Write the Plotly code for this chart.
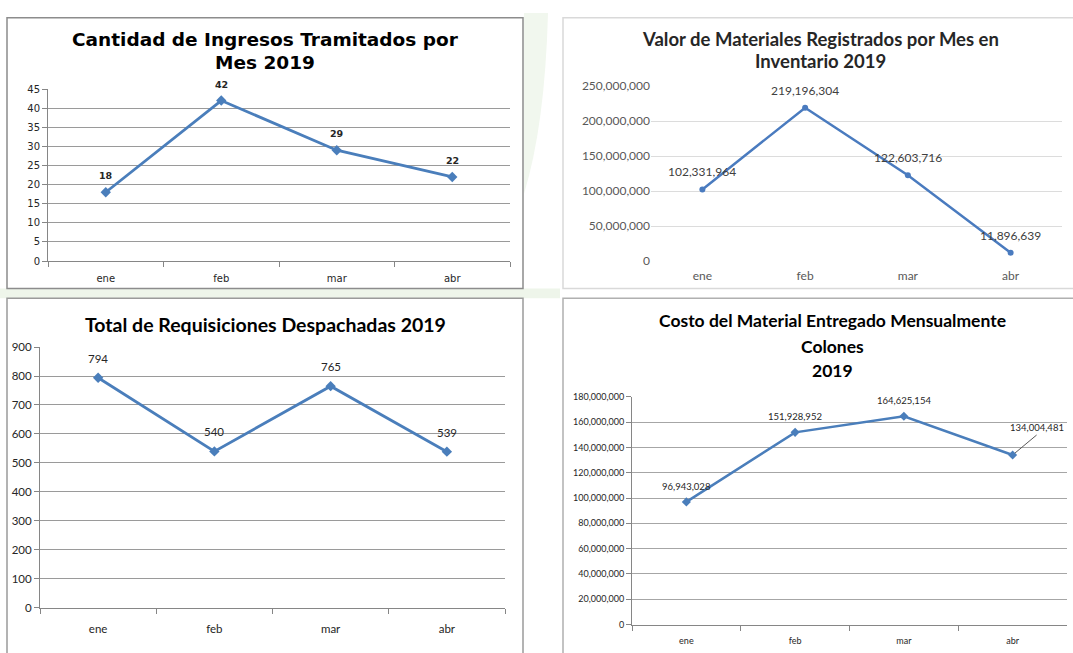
import plotly.graph_objects as go

W, H = 1073, 653

meses = ["ene", "feb", "mar", "abr"]
ingresos = [18, 42, 29, 22]
valor_materiales = [102331964, 219196304, 122603716, 11896639]
requisiciones = [794, 540, 765, 539]
costo_material = [96943028, 151928952, 164625154, 134004481]

titulo1 = ["Cantidad de Ingresos Tramitados por", "Mes 2019"]
titulo2 = ["Valor de Materiales Registrados por Mes en", "Inventario 2019"]
titulo3 = ["Total de Requisiciones Despachadas 2019"]
titulo4 = ["Costo del Material Entregado Mensualmente", "Colones", "2019"]


def px(x):
    return x / W


def py(y):
    return 1 - y / H


fig = go.Figure()

CAL = "Lato, Carlito, Calibri, sans-serif"
VER = "DejaVu Sans, Verdana, sans-serif"

# ---------- traces ----------
fig.add_trace(go.Scatter(x=meses, y=ingresos, xaxis="x", yaxis="y", mode="lines+markers",
                         line=dict(color="#4A7EBB", width=2.8),
                         marker=dict(symbol="diamond", size=8, color="#4A7EBB"),
                         hoverinfo="skip", showlegend=False))
fig.add_trace(go.Scatter(x=meses, y=valor_materiales, xaxis="x2", yaxis="y2", mode="lines+markers",
                         line=dict(color="#4A7BBF", width=2.5),
                         marker=dict(symbol="circle", size=6, color="#4A7BBF"),
                         hoverinfo="skip", showlegend=False))
fig.add_trace(go.Scatter(x=meses, y=requisiciones, xaxis="x3", yaxis="y3", mode="lines+markers",
                         line=dict(color="#4A7EBB", width=2.8),
                         marker=dict(symbol="diamond", size=8, color="#4A7EBB"),
                         hoverinfo="skip", showlegend=False))
fig.add_trace(go.Scatter(x=meses, y=costo_material, xaxis="x4", yaxis="y4", mode="lines+markers",
                         line=dict(color="#4A7EBB", width=2.5),
                         marker=dict(symbol="diamond", size=7, color="#4A7EBB"),
                         hoverinfo="skip", showlegend=False))

# ---------- axes ----------
def xcat(domain, anchor, showline, linecolor, font, standoff):
    return dict(domain=domain, anchor=anchor, type="category", range=[-0.5, 3.5],
                showline=showline, linecolor=linecolor, linewidth=1,
                ticks="outside" if showline else "", tickson="boundaries", ticklen=5,
                tickcolor=linecolor, showgrid=False, zeroline=False,
                tickfont=font, ticklabelstandoff=standoff, fixedrange=True)


def yval(domain, anchor, rng, dtick, showline, linecolor, gridcolor, font, fmt=None):
    d = dict(domain=domain, anchor=anchor, range=rng, dtick=dtick, tick0=0,
             showline=showline, linecolor=linecolor, linewidth=1,
             ticks="outside" if showline else "", ticklen=5, tickcolor=linecolor,
             showgrid=True, gridcolor=gridcolor, gridwidth=1, zeroline=False,
             tickfont=font, fixedrange=True)
    if fmt:
        d["tickformat"] = fmt
    return d


f1 = dict(family=VER, size=10, color="#262626")
f2 = dict(family=CAL, size=12, color="#595959")
f3 = dict(family=CAL, size=11.5, color="#262626")
f4 = dict(family=CAL, size=9, color="#262626")

fig.update_layout(
    xaxis=xcat([px(48), px(510)], "y", True, "#868686", f1, 8),
    yaxis=yval([py(259), py(83)], "x", [0, 45], 5, True, "#868686", "#9a9a9a", f1),
    xaxis2=xcat([px(651), px(1062)], "y2", False, "#d9d9d9", f2, 6),
    yaxis2=yval([py(259), py(80)], "x2", [0, 250000000], 50000000, False, "#d9d9d9", "#dcdcdc", f2, ",d"),
    xaxis3=xcat([px(40), px(505)], "y3", True, "#868686", f3, 10),
    yaxis3=yval([py(614), py(347)], "x3", [0, 900], 100, True, "#868686", "#9a9a9a", f3),
    xaxis4=xcat([px(632), px(1067)], "y4", True, "#868686", f4, 8),
    yaxis4=yval([py(631), py(398)], "x4", [0, 180000000], 20000000, True, "#868686", "#a6a6a6", f4, ",d"),
)

# ---------- panel borders and background ----------
shapes = [
    dict(type="rect", xref="paper", yref="paper", x0=px(0), x1=px(560), y0=py(287), y1=py(297),
         fillcolor="#eef5ea", line=dict(width=0), layer="below"),
    dict(type="path", xref="paper", yref="paper",
         path=f"M {px(524)} {py(5)} L {px(548)} {py(5)} Q {px(545)} {py(120)} {px(524)} {py(190)} Z",
         fillcolor="#f1f7ee", line=dict(width=0), layer="below"),
    dict(type="rect", xref="paper", yref="paper", x0=px(7), x1=px(523), y0=py(287), y1=py(10),
         line=dict(color="#8c8c8c", width=1.5), fillcolor="rgba(0,0,0,0)"),
    dict(type="rect", xref="paper", yref="paper", x0=px(563), x1=px(1085), y0=py(287), y1=py(10),
         line=dict(color="#d9d9d9", width=1.5), fillcolor="rgba(0,0,0,0)"),
    dict(type="rect", xref="paper", yref="paper", x0=px(7), x1=px(523), y0=py(670), y1=py(297),
         line=dict(color="#9a9a9a", width=1.5), fillcolor="rgba(0,0,0,0)"),
    dict(type="rect", xref="paper", yref="paper", x0=px(563), x1=px(1085), y0=py(670), y1=py(297),
         line=dict(color="#b0b0b0", width=1.5), fillcolor="rgba(0,0,0,0)"),
]

ann = []


def title(lines, cx, ys, font):
    for t, y in zip(lines, ys):
        ann.append(dict(text=f"<b>{t}</b>", xref="paper", yref="paper", x=px(cx), y=py(y),
                        xanchor="center", yanchor="middle", showarrow=False, font=font))


title(titulo1, 265, [32, 56], dict(family=VER, size=18.5, color="#000000"))
title(titulo2, 820, [32, 54], dict(family=CAL, size=18.5, color="#262626"))
title(titulo3, 265, [324], dict(family=CAL, size=19.5, color="#000000"))
title(titulo4, 832, [320, 346, 371], dict(family=CAL, size=17.5, color="#000000"))


def labels(xs, ys, ax, ay, font, fmt, shift, bold=False):
    for x, y in zip(xs, ys):
        t = fmt.format(y)
        if bold:
            t = f"<b>{t}</b>"
        ann.append(dict(text=t, xref=ax, yref=ay, x=x, y=y, yshift=shift,
                        xanchor="center", yanchor="bottom", showarrow=False, font=font))


labels(meses, ingresos, "x", "y", dict(family=VER, size=9.5, color="#262626"), "{:d}", 9, bold=True)
labels(meses, valor_materiales, "x2", "y2", dict(family=CAL, size=12, color="#404040"), "{:,d}", 8)
labels(meses, requisiciones, "x3", "y3", dict(family=CAL, size=11.5, color="#262626"), "{:d}", 11)
labels(meses[:3], costo_material[:3], "x4", "y4", dict(family=CAL, size=9.5, color="#262626"), "{:,d}", 8)
ann.append(dict(text=f"{costo_material[3]:,d}", xref="x4", yref="y4", x=meses[3], y=costo_material[3],
                showarrow=True, arrowhead=0, arrowwidth=1, arrowcolor="#595959",
                ax=24, ay=-20, xanchor="center", yanchor="bottom",
                font=dict(family=CAL, size=9.5, color="#262626"), standoff=3))

fig.update_layout(
    width=W, height=H, margin=dict(l=0, r=0, t=0, b=0),
    paper_bgcolor="white", plot_bgcolor="rgba(0,0,0,0)",
    shapes=shapes, annotations=ann, showlegend=False,
)

fig.write_html("out.html", post_script="document.body.style.margin='0';",
               config={"displayModeBar": False})
